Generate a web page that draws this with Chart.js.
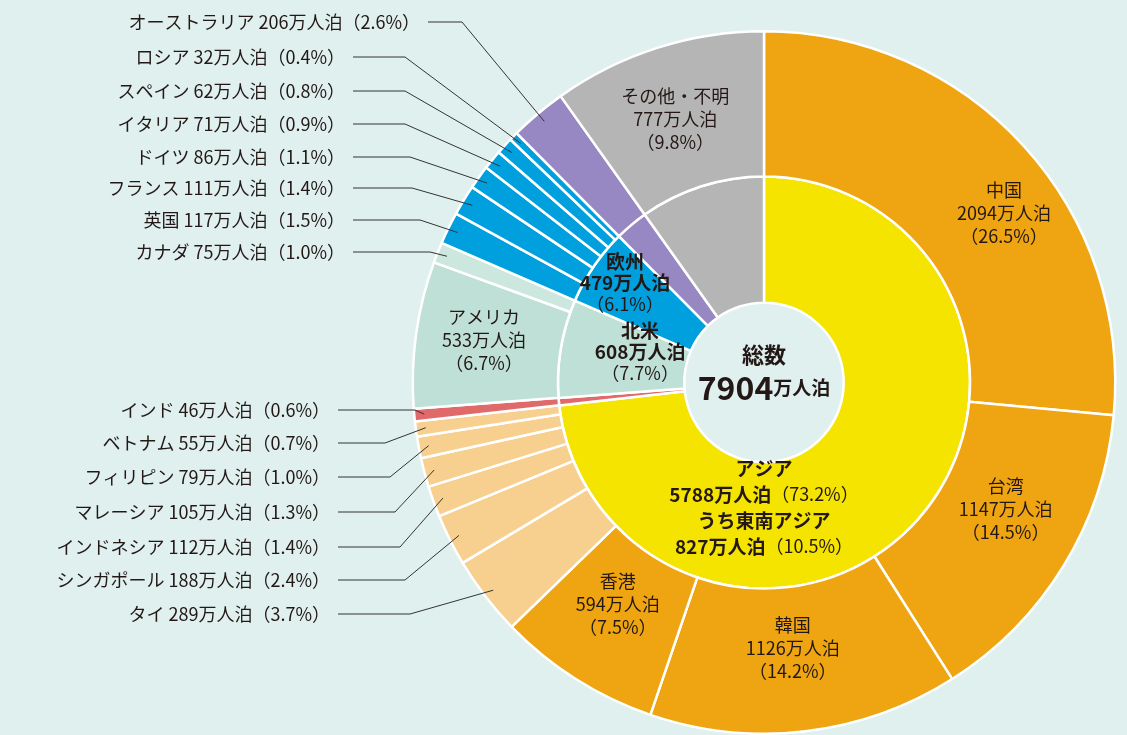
<!DOCTYPE html>
<html><head><meta charset="utf-8">
<script src="https://cdn.jsdelivr.net/npm/chart.js@4.4.1/dist/chart.umd.min.js"></script>
<style>html,body{margin:0;padding:0;background:#dff0ef;}#w{width:1127px;height:735px;}</style>
</head><body><div id="w"><canvas id="c"></canvas></div>
<script>
const outerNames = ["中国","台湾","韓国","香港","タイ","シンガポール","インドネシア","マレーシア","フィリピン","ベトナム","インド","アメリカ","カナダ","英国","フランス","ドイツ","イタリア","スペイン","ロシア","オーストラリア","その他・不明"];
const outerValues = [2094,1147,1126,594,289,188,112,105,79,55,46,533,75,117,111,86,71,62,32,206,777];
const outerPct = ["26.5","14.5","14.2","7.5","3.7","2.4","1.4","1.3","1.0","0.7","0.6","6.7","1.0","1.5","1.4","1.1","0.9","0.8","0.4","2.6","9.8"];
const innerNames = ["アジア","インド","北米","欧州","オーストラリア","その他・不明"];
const innerValues = [5788,46,608,479,206,777];
const innerPct = ["73.2","0.6","7.7","6.1","2.6","9.8"];
const totalValue = 7904;
const seaValue = 827, seaPct = "10.5";

const O="#eea511",L="#f7d08f",R="#e06a6a",M="#bfe0d6",M2="#cce7de",B="#00a0df",P="#9787c2",G="#b5b5b5";
const outerColors=[O,O,O,O,L,L,L,L,L,L,R,M,M2,B,B,B,B,B,B,P,G];
const innerColors=["#f5e300",R,M,B,P,G];

// in-slice label layout: index -> [dx,dy] from arc centroid
const outerInLabels={0:[34,18],1:[4,-19],2:[-4,-11],3:[3,-14],11:[-4,-4],20:[-4,2]};
// left labels: index -> [textRightX, y, bendX]
const leftLabels={19:[420,22,462],18:[345,57,405],17:[345,91,405],16:[345,124,405],15:[345,157,410],14:[345,188,412],13:[345,220,420],12:[345,252,430],
 10:[330,410,415],9:[330,443,385],8:[330,477,390],7:[330,512,395],6:[330,547,400],5:[330,580,405],4:[330,614,410]};
const F='"Noto Sans CJK JP","Noto Sans CJK SC",sans-serif';
const TC="#231815";

function drawSegs(ctx,cx,y,segs){
  let w=0;segs.forEach(s=>{ctx.font=s[1];w+=ctx.measureText(s[0]).width;});
  let x=cx-w/2;ctx.textAlign="left";
  segs.forEach(s=>{ctx.font=s[1];ctx.fillText(s[0],x,y);x+=ctx.measureText(s[0]).width;});
}
const labelPlugin={id:"lbl",afterDatasetsDraw(chart){
  const ctx=chart.ctx;ctx.save();ctx.fillStyle=TC;ctx.textBaseline="middle";
  const om=chart.getDatasetMeta(0).data, im=chart.getDatasetMeta(1).data;
  const n="18px "+F, b="bold 19px "+F;
  for(const k in outerInLabels){
    const e=om[k];const p=e.tooltipPosition();const d=outerInLabels[k];
    const x=p.x+d[0],y=p.y+d[1];
    ctx.font=n;ctx.textAlign="center";
    ctx.fillText(outerNames[k],x,y-23);
    ctx.fillText(outerValues[k]+"万人泊",x,y);
    ctx.fillText("（"+outerPct[k]+"%）",x,y+23);
  }
  ctx.strokeStyle="#333";ctx.lineWidth=1;
  for(const k in leftLabels){
    const [tx,ty,bx]=leftLabels[k];const e=om[k];
    const a=(e.startAngle+e.endAngle)/2, r=e.outerRadius-10;
    const px=e.x+Math.cos(a)*r, py=e.y+Math.sin(a)*r;
    ctx.font=n;ctx.textAlign="right";
    ctx.fillText(outerNames[k]+" "+outerValues[k]+"万人泊（"+outerPct[k]+"%）",tx,ty);
    ctx.beginPath();ctx.moveTo(tx+8,ty);ctx.lineTo(bx,ty);ctx.lineTo(px,py);ctx.stroke();
  }
  // inner labels
  ctx.textAlign="center";
  let p=im[3].tooltipPosition();let x=p.x-21,y=p.y-19;
  ctx.font=b;ctx.fillText(innerNames[3],x,y-21);ctx.fillText(innerValues[3]+"万人泊",x,y);
  ctx.font=n;ctx.fillText("（"+innerPct[3]+"%）",x,y+21);
  p=im[2].tooltipPosition();x=p.x+17;y=p.y-7;
  ctx.font=b;ctx.fillText(innerNames[2],x,y-21);ctx.fillText(innerValues[2]+"万人泊",x,y);
  ctx.font=n;ctx.textAlign="center";ctx.fillText("（"+innerPct[2]+"%）",x,y+21);
  const cx=om[0].x,cy=om[0].y;
  y=cy+86;
  ctx.font=b;ctx.textAlign="center";ctx.fillText(innerNames[0],cx,y);
  drawSegs(ctx,cx,y+26,[[innerValues[0]+"万人泊",b],["（"+innerPct[0]+"%）",n]]);
  ctx.font=b;ctx.textAlign="center";ctx.fillText("うち東南アジア",cx,y+52);
  drawSegs(ctx,cx,y+78,[[seaValue+"万人泊",b],["（"+seaPct+"%）",n]]);
  ctx.font="bold 22px "+F;ctx.textAlign="center";ctx.fillText("総数",cx,cy-28);
  drawSegs(ctx,cx,cy+5,[[String(totalValue),"bold 32px "+F],["万人泊","bold 19px "+F]]);
  ctx.restore();
}};
new Chart(document.getElementById("c"),{type:"doughnut",
 data:{labels:outerNames,datasets:[
  {data:outerValues,backgroundColor:outerColors,borderColor:"#fff",borderWidth:2.5,weight:146},
  {data:innerValues,backgroundColor:innerColors,borderColor:"#fff",borderWidth:2.5,weight:127}]},
 options:{responsive:true,maintainAspectRatio:false,animation:false,cutout:"22.7%",
  layout:{padding:{left:411,right:10,top:30,bottom:0}},
  plugins:{legend:{display:false},tooltip:{enabled:false}}},
 plugins:[labelPlugin]});
</script></body></html>
